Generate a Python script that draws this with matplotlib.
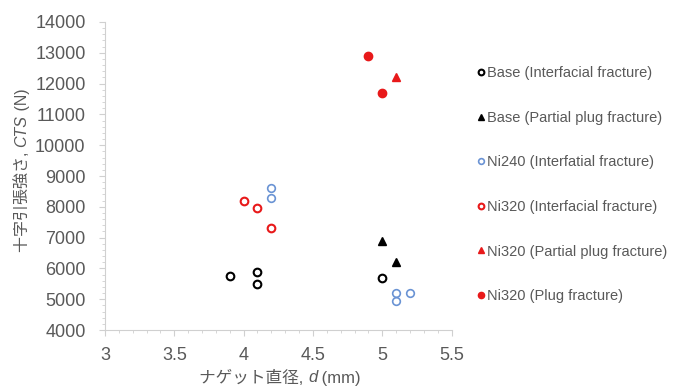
import matplotlib.pyplot as plt
from matplotlib.ticker import MultipleLocator, FormatStrFormatter

plt.rcParams['font.family'] = ['Liberation Sans', 'Noto Sans CJK JP']

# data
base_if_d = [3.9, 4.1, 4.1, 5.0]
base_if_cts = [5750, 5900, 5500, 5700]
base_pp_d = [5.0, 5.1]
base_pp_cts = [6900, 6200]
ni240_if_d = [4.2, 4.2, 5.1, 5.1, 5.2]
ni240_if_cts = [8600, 8300, 5200, 4950, 5200]
ni320_if_d = [4.0, 4.1, 4.2]
ni320_if_cts = [8200, 7950, 7300]
ni320_pp_d = [5.1]
ni320_pp_cts = [12200]
ni320_plug_d = [4.9, 5.0]
ni320_plug_cts = [12900, 11700]

labels = ['Base (Interfacial fracture)', 'Base (Partial plug fracture)',
          'Ni240 (Interfatial fracture)', 'Ni320 (Interfacial fracture)',
          'Ni320 (Partial plug fracture)', 'Ni320 (Plug fracture)']
xlabel_parts = [('ナゲット直径, ', 'normal'), ('d', 'italic'), (' (mm)', 'normal')]
ylabel_parts = [('十字引張強さ, ', 'normal'), ('CTS', 'italic'), (' (N)', 'normal')]

gray = '#595959'
red = '#e8191a'
blue = '#6a93d4'

fig = plt.figure(figsize=(6.73, 3.92), dpi=100)
ax = fig.add_axes([0.156, 0.158, 0.515, 0.786])

ax.plot(base_if_d, base_if_cts, 'o', ms=5.5, mfc='none', mec='black', mew=1.5, label=labels[0])
ax.plot(base_pp_d, base_pp_cts, '^', ms=6, color='black', label=labels[1])
ax.plot(ni240_if_d, ni240_if_cts, 'o', ms=5.5, mfc='none', mec=blue, mew=1.2, label=labels[2])
ax.plot(ni320_if_d, ni320_if_cts, 'o', ms=5.5, mfc='none', mec=red, mew=1.5, label=labels[3])
ax.plot(ni320_pp_d, ni320_pp_cts, '^', ms=6, color=red, label=labels[4])
ax.plot(ni320_plug_d, ni320_plug_cts, 'o', ms=6, color=red, label=labels[5])

ax.set_xlim(3, 5.5)
ax.set_ylim(4000, 14000)
ax.xaxis.set_major_locator(MultipleLocator(0.5))
ax.xaxis.set_minor_locator(MultipleLocator(0.1))
ax.xaxis.set_major_formatter(FormatStrFormatter('%g'))
ax.yaxis.set_major_locator(MultipleLocator(1000))
ax.yaxis.set_minor_locator(MultipleLocator(200))

for s in ['top', 'right']:
    ax.spines[s].set_visible(False)
for s in ['left', 'bottom']:
    ax.spines[s].set_color('#d0d0d0')
ax.tick_params(which='both', colors='#d0d0d0', labelcolor=gray, labelsize=13)
ax.tick_params(which='major', length=4)
ax.tick_params(which='minor', length=2)
ax.tick_params(axis='y', pad=10)
ax.tick_params(axis='x', pad=8)

leg = ax.legend(loc='upper left', bbox_to_anchor=(1.045, 0.89), frameon=False,
                fontsize=10.5, labelspacing=2.1, handlelength=0.5,
                handletextpad=0.15, markerscale=0.75, borderaxespad=0.3)
for t in leg.get_texts():
    t.set_color(gray)


# axis titles mix Japanese and italic Latin, so build them from pieces
def place_parts(parts, cx, cy, vertical, size):
    r = fig.canvas.get_renderer()
    W, H = fig.bbox.width, fig.bbox.height
    texts = []
    for s, style in parts:
        if vertical:
            t = fig.text(0, 0, s, fontsize=size, color=gray, style=style,
                         rotation=90, ha='center', va='bottom')
        else:
            t = fig.text(0, 0, s, fontsize=size, color=gray, style=style,
                         ha='left', va='center')
        texts.append(t)
    sizes = [t.get_window_extent(r) for t in texts]
    total = sum(b.height if vertical else b.width for b in sizes)
    pos = (cy if vertical else cx) - total / 2
    for t, b in zip(texts, sizes):
        if vertical:
            t.set_position((cx / W, pos / H))
            pos += b.height
        else:
            t.set_position((pos / W, cy / H))
            pos += b.width


place_parts(xlabel_parts, 280, 392 - 378, False, 12)
place_parts(ylabel_parts, 22, 392 - 170, True, 11.5)

fig.savefig('out.png', dpi=100)
